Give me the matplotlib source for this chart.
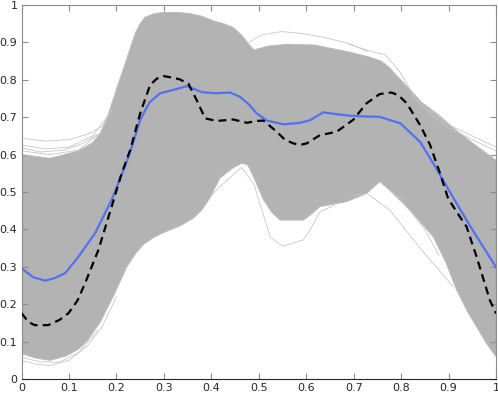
import matplotlib
matplotlib.use('Agg')
import matplotlib.pyplot as plt
from matplotlib.ticker import FormatStrFormatter

# Mean curve (blue)
mean_x = [0, 0.025, 0.05, 0.07, 0.092, 0.12, 0.155, 0.19, 0.218, 0.235, 0.25, 0.27,
          0.292, 0.32, 0.348, 0.365, 0.38, 0.41, 0.439, 0.46, 0.48, 0.496, 0.517,
          0.552, 0.587, 0.608, 0.636, 0.665, 0.692, 0.725, 0.755, 0.798, 0.84,
          0.87, 0.9, 0.945, 1.0]
mean_y = [0.296, 0.272, 0.263, 0.27, 0.283, 0.327, 0.39, 0.479, 0.568, 0.63, 0.693,
          0.74, 0.764, 0.773, 0.783, 0.775, 0.767, 0.764, 0.766, 0.755, 0.733, 0.71,
          0.691, 0.681, 0.685, 0.692, 0.713, 0.708, 0.704, 0.702, 0.701, 0.684,
          0.634, 0.572, 0.506, 0.41, 0.299]

# Dashed curve (black)
dash_x = [0, 0.015, 0.028, 0.056, 0.08, 0.099, 0.118, 0.134, 0.162, 0.19, 0.211,
          0.229, 0.25, 0.271, 0.285, 0.299, 0.318, 0.334, 0.352, 0.369, 0.387,
          0.411, 0.43, 0.446, 0.475, 0.495, 0.51, 0.538, 0.555, 0.573, 0.587,
          0.601, 0.629, 0.664, 0.699, 0.727, 0.755, 0.78, 0.795, 0.812, 0.84,
          0.861, 0.882, 0.899, 0.918, 0.938, 0.959, 0.987, 1.0]
dash_y = [0.176, 0.152, 0.144, 0.144, 0.158, 0.176, 0.21, 0.256, 0.345, 0.461,
          0.55, 0.612, 0.71, 0.786, 0.803, 0.81, 0.806, 0.801, 0.789, 0.746, 0.697,
          0.69, 0.692, 0.694, 0.685, 0.69, 0.691, 0.661, 0.64, 0.63, 0.626, 0.63,
          0.652, 0.661, 0.693, 0.737, 0.762, 0.766, 0.758, 0.737, 0.679, 0.626,
          0.55, 0.483, 0.445, 0.407, 0.327, 0.211, 0.175]

# Dense band of sample curves: upper and lower edges
band_up_x = [0, 0.06, 0.12, 0.15, 0.165, 0.178, 0.19, 0.2, 0.215, 0.228, 0.24,
             0.25, 0.26, 0.28, 0.3, 0.33, 0.355, 0.38, 0.404, 0.43, 0.446, 0.465,
             0.477, 0.49, 0.505, 0.519, 0.56, 0.618, 0.688, 0.73, 0.758, 0.775,
             0.793, 0.82, 0.843, 0.88, 0.913, 0.96, 1.0]
band_up_y = [0.6, 0.59, 0.61, 0.632, 0.655, 0.69, 0.735, 0.775, 0.83, 0.88, 0.925,
             0.95, 0.967, 0.977, 0.98, 0.98, 0.977, 0.97, 0.958, 0.948, 0.94,
             0.918, 0.898, 0.88, 0.885, 0.89, 0.895, 0.893, 0.875, 0.862, 0.85,
             0.833, 0.808, 0.772, 0.74, 0.705, 0.668, 0.622, 0.585]
band_lo_x = [0, 0.03, 0.06, 0.095, 0.12, 0.137, 0.165, 0.193, 0.222, 0.24, 0.257,
             0.28, 0.306, 0.335, 0.362, 0.38, 0.397, 0.418, 0.446, 0.464, 0.477,
             0.489, 0.51, 0.528, 0.545, 0.594, 0.61, 0.629, 0.685, 0.727, 0.755,
             0.776, 0.82, 0.868, 0.895, 0.917, 0.94, 0.959, 0.98, 1.0]
band_lo_y = [0.068, 0.056, 0.05, 0.062, 0.08, 0.1, 0.15, 0.22, 0.3, 0.335, 0.36,
             0.38, 0.395, 0.41, 0.43, 0.452, 0.484, 0.537, 0.565, 0.577, 0.572,
             0.541, 0.479, 0.445, 0.425, 0.425, 0.44, 0.461, 0.474, 0.496, 0.528,
             0.505, 0.45, 0.38, 0.31, 0.238, 0.18, 0.14, 0.095, 0.06]

# A few separate curves sticking out of the band
edge_curves = [
    ([0, 0.05, 0.1, 0.14, 0.17, 0.19], [0.644, 0.636, 0.64, 0.655, 0.675, 0.72]),
    ([0, 0.05, 0.1, 0.15, 0.18], [0.626, 0.615, 0.62, 0.65, 0.7]),
    ([0, 0.06, 0.12, 0.17], [0.61, 0.6, 0.612, 0.662]),
    ([0, 0.04, 0.09, 0.13, 0.16], [0.618, 0.607, 0.612, 0.63, 0.655]),
    ([0, 0.03, 0.06, 0.1, 0.14, 0.17, 0.2], [0.05, 0.04, 0.036, 0.05, 0.09, 0.14, 0.22]),
    ([0, 0.04, 0.08, 0.12, 0.16], [0.058, 0.046, 0.045, 0.07, 0.13]),
    ([0.40, 0.418, 0.445, 0.464, 0.49, 0.524, 0.55, 0.594, 0.612, 0.629, 0.66],
     [0.49, 0.514, 0.545, 0.566, 0.52, 0.38, 0.355, 0.372, 0.407, 0.447, 0.465]),
    ([0.70, 0.727, 0.776, 0.84, 0.91], [0.49, 0.497, 0.452, 0.35, 0.247]),
    ([0.755, 0.8, 0.85, 0.88], [0.528, 0.48, 0.4, 0.33]),
    ([0.69, 0.748, 0.766, 0.797, 0.83, 0.87, 0.9, 0.95, 1.0],
     [0.895, 0.872, 0.868, 0.822, 0.75, 0.7, 0.672, 0.64, 0.61]),
    ([0.86, 0.9, 0.95, 1.0], [0.72, 0.68, 0.65, 0.62]),
    ([0.48, 0.505, 0.548, 0.59, 0.632, 0.688, 0.73],
     [0.9, 0.92, 0.929, 0.924, 0.915, 0.898, 0.875]),
]

tick_vals = [0, 0.1, 0.2, 0.3, 0.4, 0.5, 0.6, 0.7, 0.8, 0.9, 1.0]

fig = plt.figure(figsize=(4.98, 3.98), dpi=100)
ax = fig.add_axes([0.0432, 0.0477, 0.9528, 0.9397])

# band polygon: along the upper edge, back along the lower edge
poly_x = band_up_x + band_lo_x[::-1]
poly_y = band_up_y + band_lo_y[::-1]
ax.fill(poly_x, poly_y, color='#b3b3b3', lw=0, zorder=1)
for cx, cy in edge_curves:
    ax.plot(cx, cy, color='#c8c8c8', lw=0.6, zorder=2)
ax.plot(band_up_x, band_up_y, color='#bcbcbc', lw=0.7, zorder=2)
ax.plot(band_lo_x, band_lo_y, color='#bcbcbc', lw=0.7, zorder=2)

ax.plot(mean_x, mean_y, color='#5470f2', lw=1.6, zorder=3)
ax.plot(dash_x, dash_y, color='black', lw=1.6, dashes=(3.6, 2.3), zorder=4)

ax.set_xlim(0, 1)
ax.set_ylim(0, 1)
ax.set_xticks(tick_vals)
ax.set_yticks(tick_vals)
ax.xaxis.set_major_formatter(FormatStrFormatter('%g'))
ax.yaxis.set_major_formatter(FormatStrFormatter('%g'))
ax.tick_params(direction='in', length=4, width=0.8, color='#8c8c8c',
               labelsize=8, labelcolor='#262626', top=True, right=True, pad=3)
for side in ['top', 'right', 'left']:
    ax.spines[side].set_color('#8c8c8c')
ax.spines['bottom'].set_color('#262626')

fig.savefig('out.png', dpi=100)
